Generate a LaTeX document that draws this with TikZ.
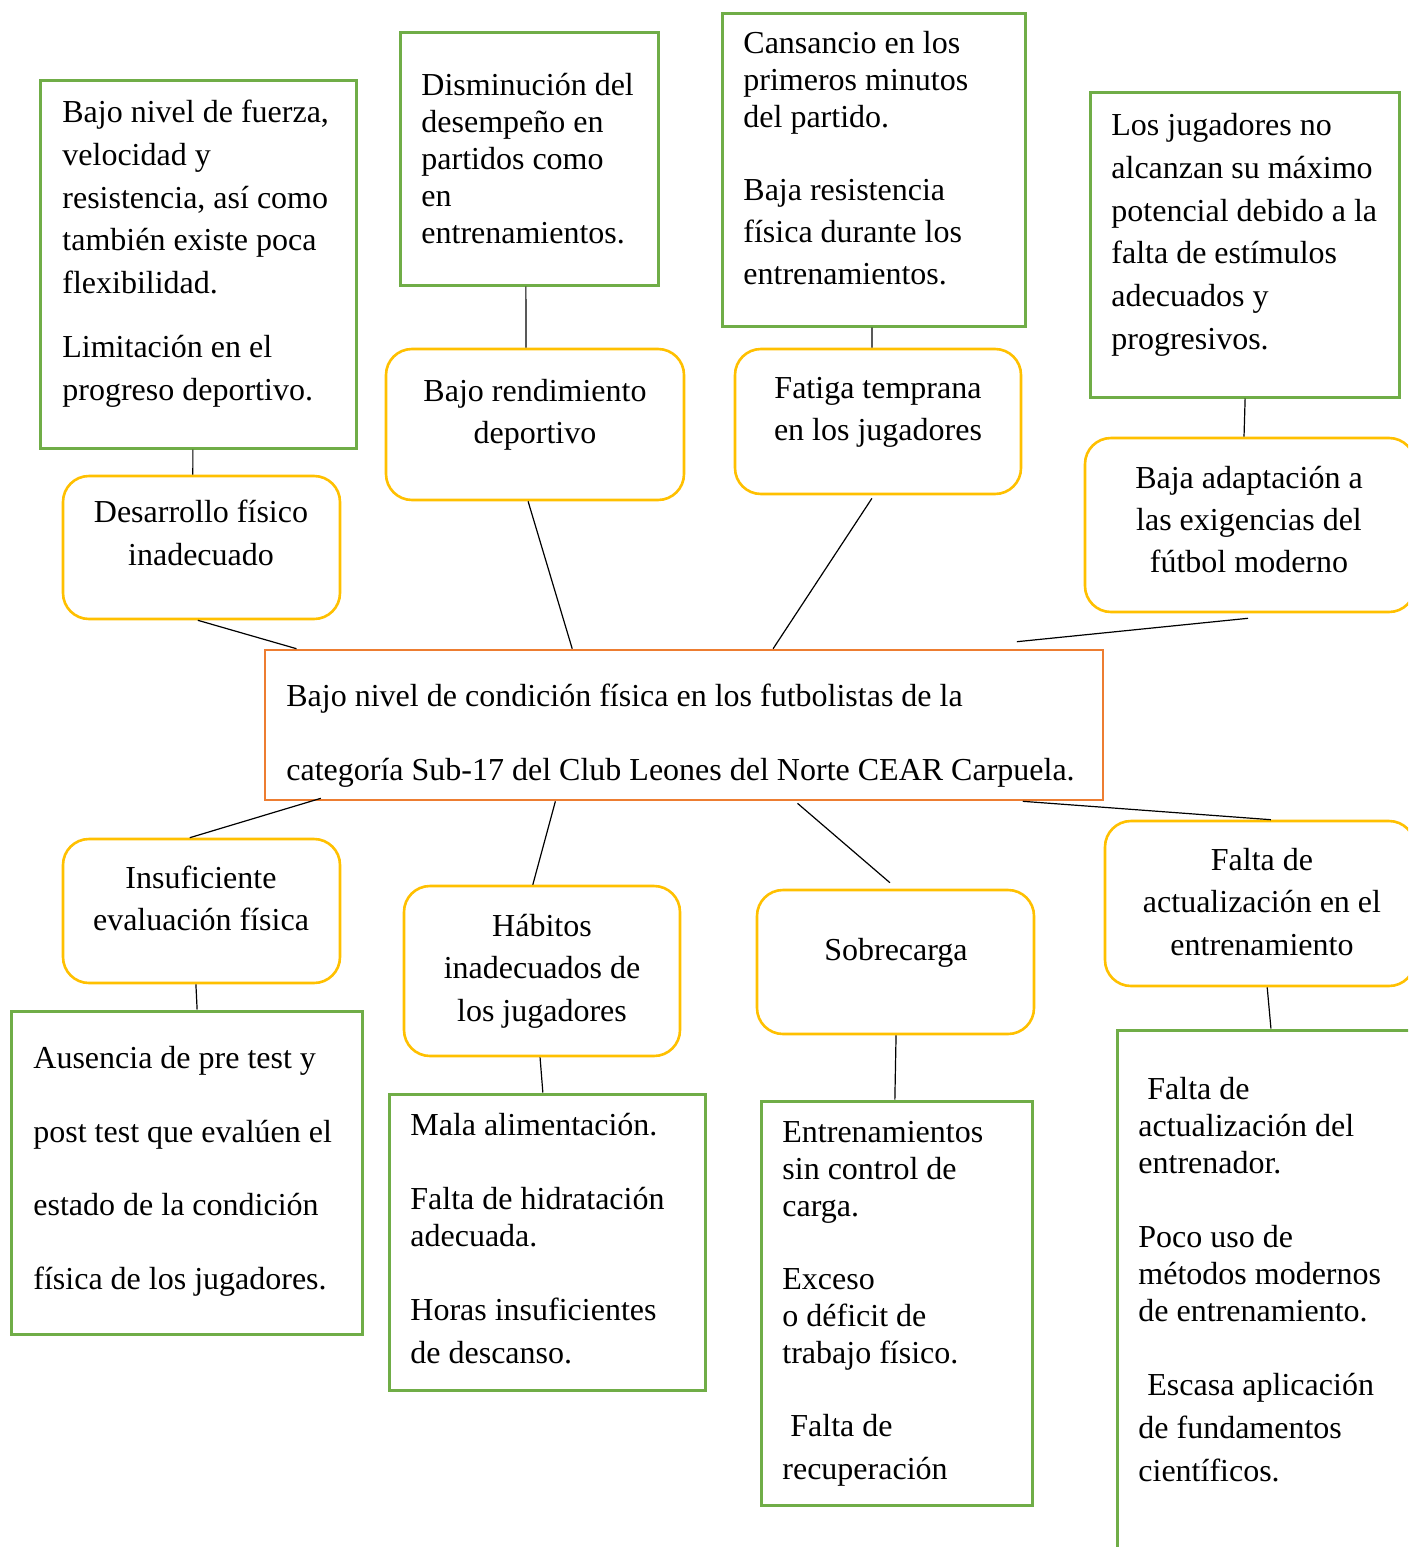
\documentclass[tikz,border=0pt]{standalone}
\usepackage{fontspec}
\setmainfont{Liberation Serif}
\usetikzlibrary{calc,fit}
\definecolor{boxgreen}{HTML}{70AD47}
\definecolor{boxyellow}{HTML}{FFC000}
\definecolor{boxorange}{HTML}{ED7D31}
\newcommand\ls[1]{\fontsize{16}{#1}\selectfont}
\newcommand\fl{\rule{0pt}{12pt}}
\begin{document}
\begin{tikzpicture}[x=0.5pt,y=-0.5pt,
  gbox/.style={draw=boxgreen, line width=1.5pt, inner sep=0pt},
  ybox/.style={draw=boxyellow, line width=1.3pt, rounded corners=13pt, inner sep=0pt},
  obox/.style={draw=boxorange, line width=1.3pt, inner sep=0pt},
  ltxt/.style={inner sep=0pt, anchor=north west, align=left},
  ctxt/.style={inner sep=0pt, anchor=north, align=center},
  conn/.style={draw=black, line width=0.6pt}]
\useasboundingbox (0,0) rectangle (1408,1547);
\fill[white] (0,0) rectangle (1408,1547);
\clip (0,0) rectangle (1408,1547);

% top green boxes
\node[gbox, fit={(40,80) (356,448)}] (g1) {};
\node[gbox, fit={(400,32) (658,285)}] (g2) {};
\node[gbox, fit={(722,13) (1025,326)}] (g3) {};
\node[gbox, fit={(1090,92) (1399,397)}] (g4) {};
\node[ltxt, font=\ls{21.4}] (g1t) at (62,98) {\fl Bajo nivel de fuerza,\\ velocidad y\\ resistencia, así como\\ también existe poca\\ flexibilidad.\\[10.7pt] Limitación en el\\ progreso deportivo.};
\node[ltxt, font=\ls{18.5}] (g2t) at (421,71) {\fl Disminución del\\ desempeño en\\ partidos como\\ en\\ entrenamientos.};
\node[ltxt, font=\ls{18.5}] (g3t) at (743,29) {\fl Cansancio en los\\ primeros minutos\\ del partido.\\[18pt] Baja resistencia\\[2.5pt] física durante los\\[2.5pt] entrenamientos.};
\node[ltxt, font=\ls{21.4}] (g4t) at (1111,111) {\fl Los jugadores no\\ alcanzan su máximo\\ potencial debido a la\\ falta de estímulos\\ adecuados y\\ progresivos.};

% top yellow boxes
\node[ybox, fit={(63,476) (340,619)}] (y1) {};
\node[ybox, fit={(386,349) (684,500)}] (y2) {};
\node[ybox, fit={(735,349) (1021,494)}] (y3) {};
\node[ybox, fit={(1085,438) (1415,612)}] (y4) {};
\node[ctxt, font=\ls{21.5}] (y1t) at (201,498) {\fl Desarrollo físico\\ inadecuado};
\node[ctxt, font=\ls{21}] (y2t) at (535,377) {\fl Bajo rendimiento\\ deportivo};
\node[ctxt, font=\ls{21}] (y3t) at (878,374) {\fl Fatiga temprana\\ en los jugadores};
\node[ctxt, font=\ls{21}] (y4t) at (1249,464) {\fl Baja adaptación a\\ las exigencias del\\ fútbol moderno};

% central box
\node[obox, fit={(265,650) (1103,800)}] (c) {};
\node[ltxt, font=\ls{37}] (ct) at (286,682) {\fl Bajo nivel de condición física en los futbolistas de la\\ categoría Sub-17 del Club Leones del Norte CEAR Carpuela.};

% bottom yellow boxes
\node[ybox, fit={(63,839) (340,983)}] (y5) {};
\node[ybox, fit={(404,886) (680,1056)}] (y6) {};
\node[ybox, fit={(757,890) (1034,1034)}] (y7) {};
\node[ybox, fit={(1105,821) (1415,986)}] (y8) {};
\node[ctxt, font=\ls{21}] (y5t) at (201,864) {\fl Insuficiente\\ evaluación física};
\node[ctxt, font=\ls{21.25}] (y6t) at (542,912) {\fl Hábitos\\ inadecuados de\\ los jugadores};
\node[ctxt, font=\ls{21}] (y7t) at (896,936) {\fl Sobrecarga};
\node[ctxt, font=\ls{21.25}] (y8t) at (1262,846) {\fl Falta de\\ actualización en el\\ entrenamiento};

% bottom green boxes
\node[gbox, fit={(11,1011) (362,1334)}] (g5) {};
\node[gbox, fit={(389,1094) (705,1390)}] (g6) {};
\node[gbox, fit={(761,1101) (1032,1505)}] (g7) {};
\node[gbox, fit={(1117,1030) (1420,1570)}] (g8) {};
\node[ltxt, font=\ls{36.85}] (g5t) at (33,1044) {\fl Ausencia de pre test y\\ post test que evalúen el\\ estado de la condición\\ física de los jugadores.};
\node[ltxt, font=\ls{18.5}] (g6t) at (410,1111) {\fl Mala alimentación.\\ \\ Falta de hidratación\\ adecuada.\\ \\ Horas insuficientes\\[3pt] de descanso.};
\node[ltxt, font=\ls{18.4}] (g7t) at (782,1118) {\fl Entrenamientos\\ sin control de\\ carga.\\ \\ Exceso\\ o déficit de\\ trabajo físico.\\ \\ \hspace*{4pt}Falta de\\[3pt] recuperación};
\node[ltxt, font=\ls{18.5}] (g8t) at (1138,1075) {\fl\hspace*{4.5pt}Falta de\\ actualización del\\ entrenador.\\ \\ Poco uso de\\ métodos modernos\\ de entrenamiento.\\ \\ \hspace*{4.5pt}Escasa aplicación\\[3pt] de fundamentos\\[3pt] científicos.};

% connectors top
\draw[conn] ($(g1.south west)!0.484!(g1.south east)$) -- ($(y1.north west)!0.469!(y1.north east)$);
\draw[conn] ($(g2.south west)!0.488!(g2.south east)$) -- ($(y2.north west)!0.470!(y2.north east)$);
\draw[conn] ($(g3.south west)!0.495!(g3.south east)$) -- ($(y3.north west)!0.479!(y3.north east)$);
\draw[conn] ($(g4.south west)!0.502!(g4.south east)$) -- ($(y4.north west)!0.482!(y4.north east)$);
\draw[conn] ($(y1.south west)!0.487!(y1.south east)$) -- ($(c.north west)!0.039!(c.north east)$);
\draw[conn] ($(y2.south west)!0.477!(y2.south east)$) -- ($(c.north west)!0.367!(c.north east)$);
\draw[conn] ($(y3.south west)!0.479!(y3.south east)+(0,3)$) -- ($(c.north west)!0.606!(c.north east)$);
\draw[conn] ($(y4.south west)!0.494!(y4.south east)+(0,5)$) -- ($(c.north west)!0.896!(c.north east)+(0,-7)$);
% connectors bottom
\draw[conn] ($(c.south west)!0.068!(c.south east)+(0,-3)$) -- ($(y5.north west)!0.458!(y5.north east)$);
\draw[conn] ($(c.south west)!0.347!(c.south east)$) -- ($(y6.north west)!0.467!(y6.north east)$);
\draw[conn] ($(c.south west)!0.635!(c.south east)+(0,2)$) -- ($(y7.north west)!0.480!(y7.north east)+(0,-6)$);
\draw[conn] ($(c.south west)!0.903!(c.south east)$) -- ($(y8.north west)!0.535!(y8.north east)$);
\draw[conn] ($(y5.south west)!0.480!(y5.south east)$) -- ($(g5.north west)!0.530!(g5.north east)$);
\draw[conn] ($(y6.south west)!0.493!(y6.south east)$) -- ($(g6.north west)!0.487!(g6.north east)$);
\draw[conn] ($(y7.south west)!0.502!(y7.south east)$) -- ($(g7.north west)!0.494!(g7.north east)$);
\draw[conn] ($(y8.south west)!0.523!(y8.south east)$) -- ($(g8.north west)!0.508!(g8.north east)$);
\end{tikzpicture}
\end{document}
